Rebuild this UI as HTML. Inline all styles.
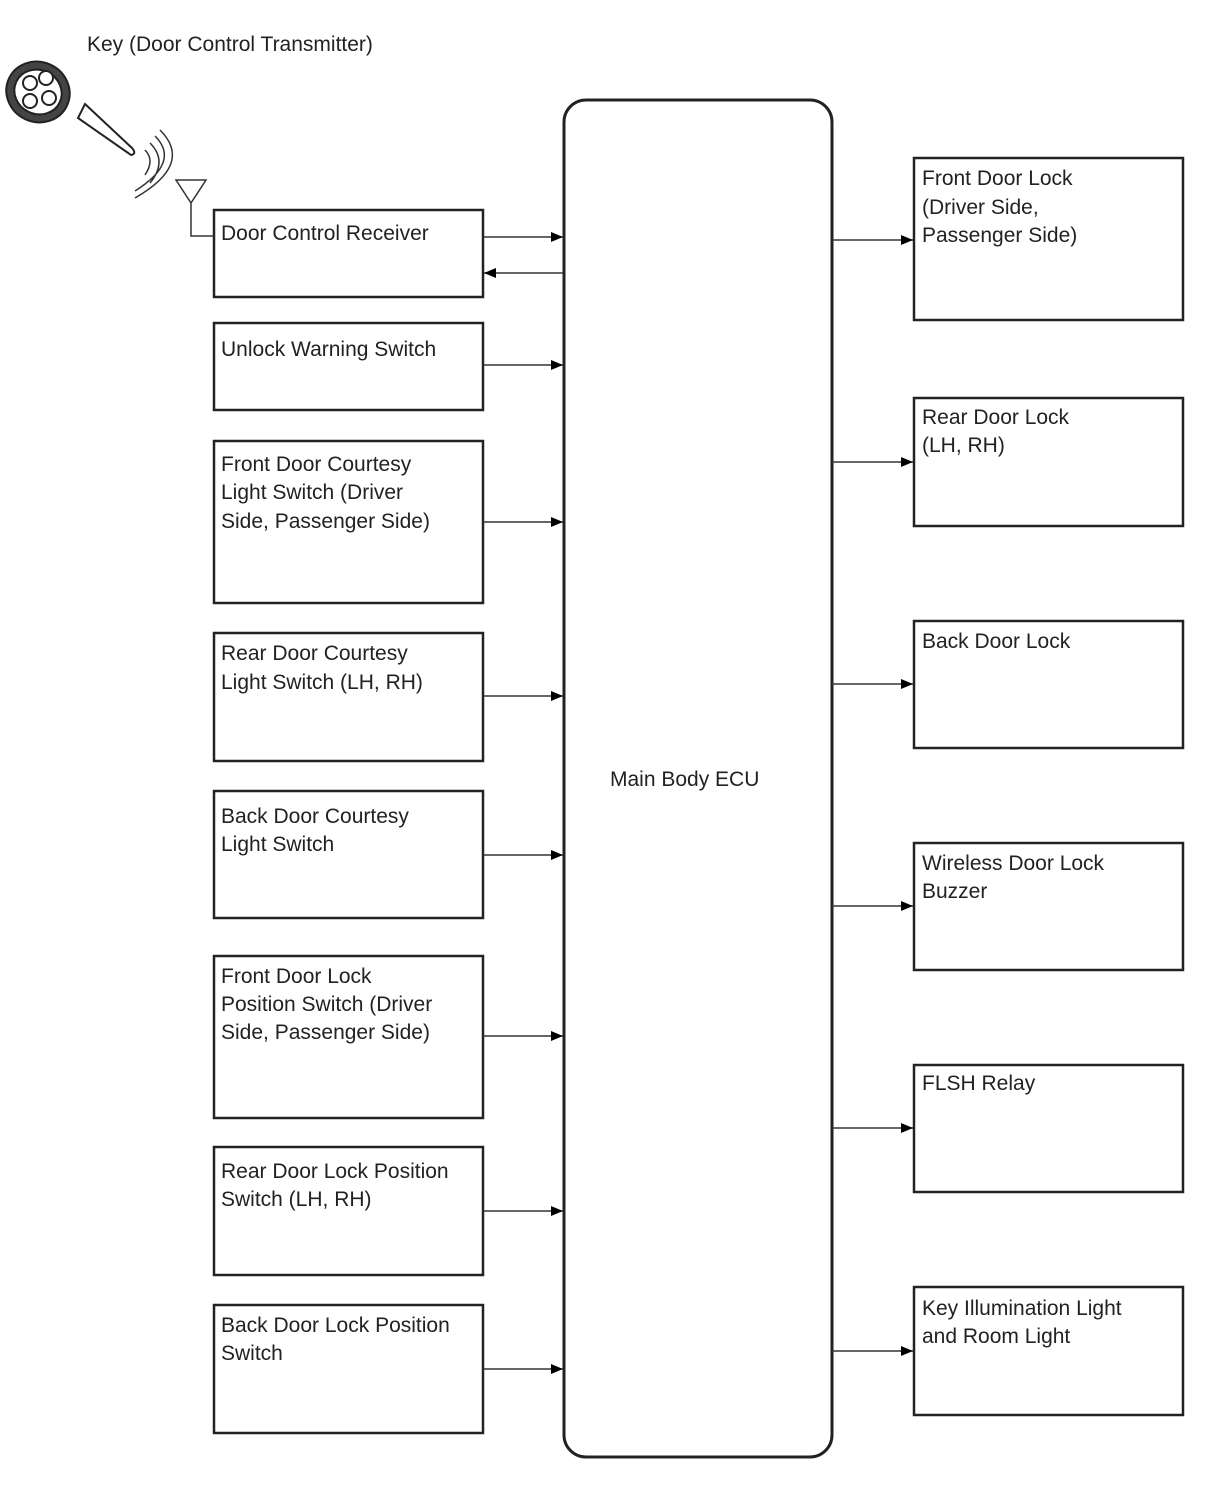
<!DOCTYPE html>
<html><head><style>body{margin:0;background:#fff}svg{display:block}text{font-family:"Liberation Sans",sans-serif;font-size:21px;fill:#222}</style></head><body>
<svg width="1210" height="1498" viewBox="0 0 1210 1498" xmlns="http://www.w3.org/2000/svg">
<defs><marker id="a" markerWidth="12" markerHeight="10" refX="12" refY="5" orient="auto" markerUnits="userSpaceOnUse"><path d="M0,0L24,5L0,10z" fill="#000" transform="scale(0.5,1)"/></marker></defs>
<g fill="none" stroke="#222" stroke-width="2.5">
<rect x="564" y="100" width="268" height="1357" rx="22" stroke-width="3"/>
<rect x="214" y="210" width="269" height="87"/>
<rect x="214" y="323" width="269" height="87"/>
<rect x="214" y="441" width="269" height="162"/>
<rect x="214" y="633" width="269" height="128"/>
<rect x="214" y="791" width="269" height="127"/>
<rect x="214" y="956" width="269" height="162"/>
<rect x="214" y="1147" width="269" height="128"/>
<rect x="214" y="1305" width="269" height="128"/>
<rect x="914" y="158" width="269" height="162"/>
<rect x="914" y="398" width="269" height="128"/>
<rect x="914" y="621" width="269" height="127"/>
<rect x="914" y="843" width="269" height="127"/>
<rect x="914" y="1065" width="269" height="127"/>
<rect x="914" y="1287" width="269" height="128"/>
</g>
<g stroke="#333" stroke-width="1.5" marker-end="url(#a)">
<line x1="483" y1="237" x2="563" y2="237"/>
<line x1="563" y1="273" x2="484" y2="273"/>
<line x1="483" y1="365" x2="563" y2="365"/>
<line x1="483" y1="522" x2="563" y2="522"/>
<line x1="483" y1="696" x2="563" y2="696"/>
<line x1="483" y1="855" x2="563" y2="855"/>
<line x1="483" y1="1036" x2="563" y2="1036"/>
<line x1="483" y1="1211" x2="563" y2="1211"/>
<line x1="483" y1="1369" x2="563" y2="1369"/>
<line x1="832" y1="240" x2="913" y2="240"/>
<line x1="832" y1="462" x2="913" y2="462"/>
<line x1="832" y1="684" x2="913" y2="684"/>
<line x1="832" y1="906" x2="913" y2="906"/>
<line x1="832" y1="1128" x2="913" y2="1128"/>
<line x1="832" y1="1351" x2="913" y2="1351"/>
</g>
<!-- antenna -->
<g fill="none" stroke="#333" stroke-width="1.5">
<path d="M214,236H191V203M176,180H206L191,203Z"/>
<path d="M145,150q10,10 0,25M150,143q18,18 0,40M155,136q26,26 -20,55M160,130q34,34 -25,68"/>
</g>
<!-- key -->
<g stroke="#222" stroke-width="2" fill="#fff">
<path d="M85,104L132,148q5,6 -1,7L78,118z" />
<ellipse cx="38" cy="92" rx="32" ry="30" transform="rotate(25 38 92)" fill="#444"/>
<ellipse cx="38" cy="92" rx="24" ry="22" transform="rotate(25 38 92)" fill="#fff"/>
<circle cx="30" cy="83" r="7"/><circle cx="46" cy="78" r="7"/><circle cx="30" cy="101" r="7"/><circle cx="49" cy="98" r="7"/>
</g>
<text x="87" y="51">Key (Door Control Transmitter)</text>
<text x="610" y="786">Main Body ECU</text>
<g>
<text x="221" y="240">Door Control Receiver</text>
<text x="221" y="356">Unlock Warning Switch</text>
<text x="221" y="471">Front Door Courtesy</text><text x="221" y="499">Light Switch (Driver</text><text x="221" y="528">Side, Passenger Side)</text>
<text x="221" y="660">Rear Door Courtesy</text><text x="221" y="689">Light Switch (LH, RH)</text>
<text x="221" y="823">Back Door Courtesy</text><text x="221" y="851">Light Switch</text>
<text x="221" y="983">Front Door Lock</text><text x="221" y="1011">Position Switch (Driver</text><text x="221" y="1039">Side, Passenger Side)</text>
<text x="221" y="1178">Rear Door Lock Position</text><text x="221" y="1206">Switch (LH, RH)</text>
<text x="221" y="1332">Back Door Lock Position</text><text x="221" y="1360">Switch</text>
<text x="922" y="185">Front Door Lock</text><text x="922" y="214">(Driver Side,</text><text x="922" y="242">Passenger Side)</text>
<text x="922" y="424">Rear Door Lock</text><text x="922" y="452">(LH, RH)</text>
<text x="922" y="648">Back Door Lock</text>
<text x="922" y="870">Wireless Door Lock</text><text x="922" y="898">Buzzer</text>
<text x="922" y="1090">FLSH Relay</text>
<text x="922" y="1315">Key Illumination Light</text><text x="922" y="1343">and Room Light</text>
</g>
</svg>
</body></html>
